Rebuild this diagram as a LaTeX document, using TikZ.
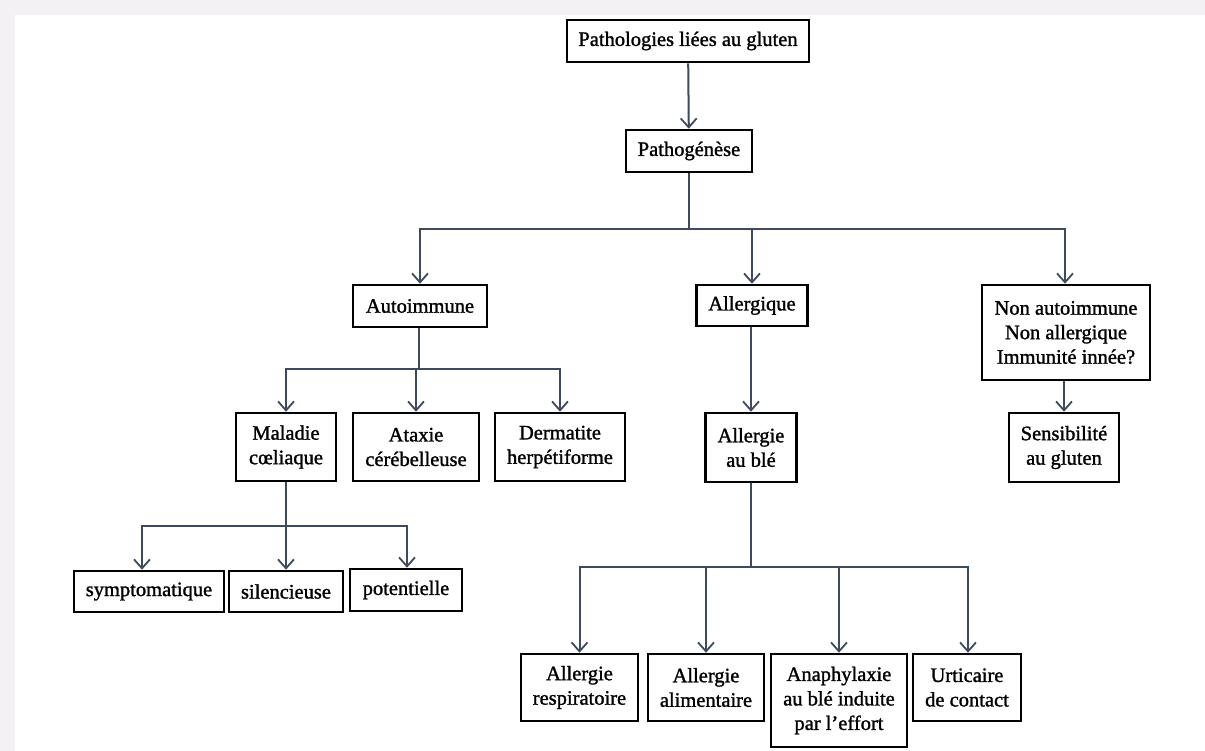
\documentclass[tikz,border=0pt]{standalone}
\usepackage{fontspec}
\setmainfont{Liberation Serif}
\newfontfamily\boxfont[FakeBold=1.3]{Liberation Serif}
\usetikzlibrary{arrows.meta}
\definecolor{conncol}{HTML}{3D4B5C}
\definecolor{framecol}{HTML}{F3F1F3}
\tikzset{
  box/.style={draw=black, line width=2.6pt, fill=white, inner sep=2pt, align=center,
    font=\boxfont\fontsize{20.5}{24.5}\selectfont, text=black},
  link/.style={draw=conncol, line width=2pt},
  arr/.style={link, -{Straight Barb[length=9pt,width=16pt,line width=1.8pt]}}
}
\begin{document}
\begin{tikzpicture}[x=1pt,y=-1pt]
\useasboundingbox (0,0) rectangle (1205,751);
\fill[framecol] (0,0) rectangle (1205,751);
\fill[white] (15,15) rectangle (1205,751);

% level 0-1
\node[box, minimum width=242pt, minimum height=42pt] (top) at (688,41) {Pathologies liées au gluten};
\node[box, minimum width=126pt, minimum height=42pt] (pathog) at (689,151) {Pathogénèse};

% level 2
\node[box, minimum width=134pt, minimum height=42pt] (auto) at (420,306) {Autoimmune};
\node[box, minimum width=111pt, minimum height=41pt] (allerg) at (752,305.5) {Allergique};
\node[box, minimum width=168pt, minimum height=95pt] (nonauto) at (1066,332.5) {Non autoimmune\\Non allergique\\Immunité innée?};

% level 3
\node[box, minimum width=100pt, minimum height=68pt] (maladie) at (286,447) {Maladie\\cœliaque};
\node[box, minimum width=126pt, minimum height=68pt] (ataxie) at (416,447) {Ataxie\\cérébelleuse};
\node[box, minimum width=130pt, minimum height=68pt] (dermat) at (560,447) {Dermatite\\herpétiforme};
\node[box, minimum width=91pt, minimum height=69pt] (allble) at (751,447.5) {Allergie\\au blé};
\node[box, minimum width=110pt, minimum height=69pt] (sensib) at (1064,447.5) {Sensibilité\\au gluten};

% level 4 left
\node[box, minimum width=150pt, minimum height=41pt] (symp) at (149,591.5) {symptomatique};
\node[box, minimum width=114pt, minimum height=41pt] (silenc) at (286,591.5) {silencieuse};
\node[box, minimum width=112pt, minimum height=42pt] (potent) at (406,590) {potentielle};

% level 4 right
\node[box, minimum width=117pt, minimum height=67pt] (resp) at (579.5,687.5) {Allergie\\respiratoire};
\node[box, minimum width=116pt, minimum height=67pt] (alim) at (706,687.5) {Allergie\\alimentaire};
\node[box, minimum width=136pt, minimum height=93pt] (anaph) at (839,700.5) {Anaphylaxie\\au blé induite\\par l’effort};
\node[box, minimum width=108pt, minimum height=67pt] (urtic) at (967,687.5) {Urticaire\\de contact};

% junctions
\coordinate (j1) at (689,229);
\coordinate (j2) at (419,369);
\coordinate (j3) at (286,526);
\coordinate (j4) at (751,567);

% connectors
\draw[arr] (top) -- (pathog);

\draw[link] (pathog.south) -- (j1);
\draw[arr] (j1) -| (auto.north);
\draw[arr] (j1) -| (allerg.north);
\draw[arr] (j1) -| ([xshift=-1pt]nonauto.north);

\draw[link] (auto.south -| j2) -- (j2);
\draw[arr] (j2) -| (maladie.north);
\draw[arr] (j2) -| (ataxie.north);
\draw[arr] (j2) -| (dermat.north);

\draw[arr] (allerg.south -| allble.north) -- (allble.north);
\draw[arr] (nonauto.south -| sensib.north) -- (sensib.north);

\draw[link] (maladie.south) -- (j3);
\draw[arr] (j3) -| ([xshift=-7pt]symp.north);
\draw[arr] (j3) -- (silenc.north);
\draw[arr] (j3) -| ([xshift=1pt]potent.north);

\draw[link] (allble.south) -- (j4);
\draw[arr] (j4) -| (resp.north);
\draw[arr] (j4) -| (alim.north);
\draw[arr] (j4) -| (anaph.north);
\draw[arr] (j4) -| ([xshift=1pt]urtic.north);
\end{tikzpicture}
\end{document}
